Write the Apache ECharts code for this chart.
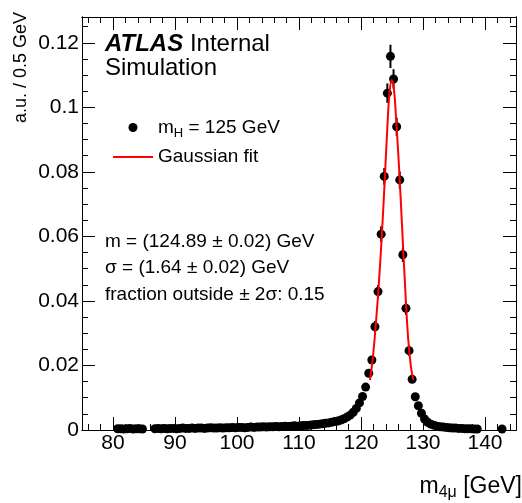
<!DOCTYPE html>
<html>
<head>
<meta charset="utf-8">
<script src="https://cdn.jsdelivr.net/npm/echarts@6/dist/echarts.min.js"></script>
<style>
html, body { margin: 0; padding: 0; background: #fff; }
#main { width: 522px; height: 503px; }
</style>
</head>
<body>
<div id="main"></div>
<script>
// 0.5 GeV bins (centres) and normalised content
const massBins = [
  80.75, 81.25, 81.75, 82.25, 82.75, 83.25, 83.75, 84.25, 84.75,
  86.75, 87.25, 87.75, 88.25, 88.75, 89.25, 89.75, 90.25, 90.75, 91.25, 91.75,
  92.25, 92.75, 93.25, 93.75, 94.25, 94.75, 95.25, 95.75, 96.25, 96.75,
  97.25, 97.75, 98.25, 98.75, 99.25, 99.75, 100.25, 100.75, 101.25, 101.75,
  102.25, 102.75, 103.25, 103.75, 104.25, 104.75, 105.25, 105.75, 106.25, 106.75,
  107.25, 107.75, 108.25, 108.75, 109.25, 109.75, 110.25, 110.75, 111.25, 111.75,
  112.25, 112.75, 113.25, 113.75, 114.25, 114.75, 115.25, 115.75, 116.25, 116.75,
  117.25, 117.75, 118.25, 118.75, 119.25, 119.75, 120.25, 120.75, 121.25, 121.75,
  122.25, 122.75, 123.25, 123.75, 124.25, 124.75, 125.25, 125.75, 126.25, 126.75,
  127.25, 127.75, 128.25, 128.75, 129.25, 129.75, 130.25, 130.75, 131.25, 131.75,
  132.25, 132.75, 133.25, 133.75, 134.25, 134.75, 135.25, 135.75, 136.25, 136.75,
  137.25, 137.75, 138.25, 138.75, 142.75
];
const fraction = [
  0.0004, 0.0004, 0.0003, 0.0004, 0.0005, 0.0003, 0.0004, 0.0004, 0.0003,
  0.0004, 0.0005, 0.0004, 0.0005, 0.0004, 0.0005, 0.0005, 0.0004, 0.0005, 0.0006, 0.0005,
  0.0005, 0.0006, 0.0005, 0.0006, 0.0006, 0.0005, 0.0006, 0.0007, 0.0006, 0.0006,
  0.0007, 0.0006, 0.0007, 0.0007, 0.0008, 0.0007, 0.0008, 0.0008, 0.0007, 0.0008,
  0.0009, 0.0008, 0.0009, 0.0009, 0.0010, 0.0009, 0.0010, 0.0010, 0.0011, 0.0010,
  0.0011, 0.0012, 0.0011, 0.0012, 0.0013, 0.0012, 0.0013, 0.0014, 0.0014, 0.0015,
  0.0016, 0.0017, 0.0018, 0.0019, 0.0021, 0.0022, 0.0024, 0.0026, 0.0028, 0.0031,
  0.0035, 0.0040, 0.0046, 0.0055, 0.0067, 0.0084, 0.0104, 0.0133, 0.0176, 0.0217,
  0.0320, 0.0429, 0.0607, 0.0786, 0.1044, 0.1158, 0.1088, 0.0940, 0.0775, 0.0543,
  0.0377, 0.0246, 0.0157, 0.0103, 0.0075, 0.0052, 0.0034, 0.0024, 0.0018, 0.0015,
  0.0012, 0.0010, 0.0009, 0.0008, 0.0007, 0.0006, 0.0006, 0.0005, 0.0005, 0.0004,
  0.0004, 0.0004, 0.0003, 0.0003, 0.0003
];
// half-length of the error bars around the peak
const errBins = [122.25, 122.75, 123.25, 123.75, 124.25, 124.75, 125.25, 125.75, 126.25, 126.75, 127.25, 127.75];
const errSize = [0.0018, 0.002, 0.0024, 0.0026, 0.003, 0.0036, 0.003, 0.0028, 0.0026, 0.0022, 0.002, 0.0016];
// Gaussian fit curve as drawn
const fitMass = [121.45, 121.94, 122.42, 122.9, 123.39, 123.87, 124.27, 124.6, 124.95,
  125.32, 125.69, 126.13, 126.61, 127.1, 127.58, 128.06, 128.44];
const fitValue = [0.0155, 0.023, 0.0335, 0.046, 0.0614, 0.079, 0.0946, 0.1045, 0.1085,
  0.1054, 0.0955, 0.0816, 0.0636, 0.045, 0.029, 0.0195, 0.0155];
// ticks
const xMajor = [80, 90, 100, 110, 120, 130, 140];
const xMinor = [76, 78, 82, 84, 86, 88, 92, 94, 96, 98, 102, 104, 106, 108, 112, 114,
  116, 118, 122, 124, 126, 128, 132, 134, 136, 138, 142, 144];
const yMajor = [0, 0.02, 0.04, 0.06, 0.08, 0.1, 0.12];
const yMinor = [0.005, 0.01, 0.015, 0.025, 0.03, 0.035, 0.045, 0.05, 0.055, 0.065, 0.07,
  0.075, 0.085, 0.09, 0.095, 0.105, 0.11, 0.115, 0.125];

const FONT = 'Liberation Sans';

function frameAxis(pos, ticks, len) {
  return {
    type: 'value',
    position: pos,
    axisLine: { show: true, onZero: false, lineStyle: { color: '#000', width: 1 } },
    axisTick: { show: true, inside: true, length: len, customValues: ticks, lineStyle: { color: '#000', width: 1 } },
    axisLabel: { show: false },
    splitLine: { show: false },
    minorTick: { show: false },
    minorSplitLine: { show: false }
  };
}

const xAxes = [
  Object.assign(frameAxis('bottom', xMajor, 13), {
    min: 75, max: 145,
    axisLabel: { show: true, customValues: xMajor, margin: 3, color: '#000', fontSize: 21, fontFamily: FONT },
    name: '{t|m}{s|4μ}{t| [GeV]}',
    nameLocation: 'end',
    nameGap: 6,
    nameMoveOverlap: false,
    nameTextStyle: {
      color: '#000', fontFamily: FONT, fontSize: 23, align: 'right', verticalAlign: 'top',
      padding: [43, 0, 0, 0],
      rich: {
        t: { fontFamily: FONT, fontSize: 23, lineHeight: 28, color: '#000' },
        s: { fontFamily: FONT, fontSize: 16, lineHeight: 14, verticalAlign: 'bottom', color: '#000' }
      }
    }
  }),
  Object.assign(frameAxis('bottom', xMinor, 6), { min: 75, max: 145 }),
  Object.assign(frameAxis('top', xMajor, 13), { min: 75, max: 145 }),
  Object.assign(frameAxis('top', xMinor, 6), { min: 75, max: 145 })
];

const yAxes = [
  Object.assign(frameAxis('left', yMajor, 13), {
    min: 0, max: 0.128,
    axisLabel: {
      show: true, customValues: yMajor, margin: 3, color: '#000', fontSize: 21, fontFamily: FONT,
      formatter: function (v) { return String(Math.round(v * 1000) / 1000); }
    },
    name: 'a.u. / 0.5 GeV',
    nameLocation: 'end',
    nameRotate: 90,
    nameGap: 5,
    nameMoveOverlap: false,
    nameTextStyle: {
      color: '#000', fontFamily: FONT, fontSize: 18, align: 'right', verticalAlign: 'bottom',
      padding: [0, 0, 52, 0]
    }
  }),
  Object.assign(frameAxis('left', yMinor, 6), { min: 0, max: 0.128 }),
  Object.assign(frameAxis('right', yMajor, 13), { min: 0, max: 0.128 }),
  Object.assign(frameAxis('right', yMinor, 6), { min: 0, max: 0.128 })
];

const points = massBins.map(function (m, i) { return [m, fraction[i]]; });
const bars = errBins.map(function (m, i) {
  const v = fraction[massBins.indexOf(m)];
  return [m, v - errSize[i], v + errSize[i]];
});
const fit = fitMass.map(function (m, i) { return [m, fitValue[i]]; });

const chart = echarts.init(document.getElementById('main'), null, { renderer: 'canvas' });
chart.setOption({
  backgroundColor: '#fff',
  animation: false,
  grid: { left: 82, right: 6, top: 17, bottom: 73, containLabel: false, outerBoundsMode: 'none' },
  xAxis: xAxes,
  yAxis: yAxes,
  legend: {
    orient: 'vertical',
    left: 112,
    top: 118,
    padding: 0,
    itemWidth: 40,
    itemHeight: 9,
    itemGap: 8,
    itemTextGap: 10,
    data: [
      { name: 'mH', icon: 'circle' },
      { name: 'Gaussian fit', itemStyle: { opacity: 0 } }
    ],
    formatter: function (name) {
      return name === 'mH' ? '{t|m}{s|H}{t| = 125 GeV}' : '{t|Gaussian fit}';
    },
    textStyle: {
      color: '#000', fontFamily: FONT, fontSize: 19,
      rich: {
        t: { fontFamily: FONT, fontSize: 19, lineHeight: 24, color: '#000' },
        s: { fontFamily: FONT, fontSize: 13, lineHeight: 5, verticalAlign: 'bottom', color: '#000' }
      }
    }
  },
  graphic: [
    {
      type: 'text', x: 105, y: 44,
      style: {
        text: '{a|ATLAS} Internal',
        font: '24px "Liberation Sans"', fill: '#000', textVerticalAlign: 'middle',
        rich: { a: { fontFamily: FONT, fontSize: 24, fontStyle: 'italic', fontWeight: 'bold', fill: '#000' } }
      }
    },
    { type: 'text', x: 105, y: 68, style: { text: 'Simulation', font: '24px "Liberation Sans"', fill: '#000', textVerticalAlign: 'middle' } },
    { type: 'text', x: 105, y: 242, style: { text: 'm = (124.89 ± 0.02) GeV', font: '19px "Liberation Sans"', fill: '#000', textVerticalAlign: 'middle' } },
    { type: 'text', x: 105, y: 268, style: { text: 'σ = (1.64 ± 0.02) GeV', font: '19px "Liberation Sans"', fill: '#000', textVerticalAlign: 'middle' } },
    { type: 'text', x: 105, y: 295, style: { text: 'fraction outside ± 2σ: 0.15', font: '19px "Liberation Sans"', fill: '#000', textVerticalAlign: 'middle' } }
  ],
  series: [
    {
      type: 'custom',
      xAxisIndex: 0, yAxisIndex: 0,
      z: 2,
      silent: true,
      data: bars,
      encode: { x: 0, y: [1, 2] },
      renderItem: function (params, api) {
        const lo = api.coord([api.value(0), api.value(1)]);
        const hi = api.coord([api.value(0), api.value(2)]);
        return {
          type: 'line',
          shape: { x1: lo[0], y1: lo[1], x2: hi[0], y2: hi[1] },
          style: { stroke: '#000', lineWidth: 2 }
        };
      }
    },
    {
      name: 'mH',
      type: 'scatter',
      xAxisIndex: 0, yAxisIndex: 0,
      z: 3,
      symbol: 'circle',
      symbolSize: 9,
      itemStyle: { color: '#000', opacity: 1 },
      data: points
    },
    {
      name: 'Gaussian fit',
      type: 'line',
      xAxisIndex: 0, yAxisIndex: 0,
      z: 4,
      smooth: 0.4,
      symbol: 'none',
      showSymbol: false,
      lineStyle: { color: '#ff0000', width: 2 },
      itemStyle: { color: '#ff0000' },
      data: fit
    }
  ]
});
</script>
</body>
</html>
